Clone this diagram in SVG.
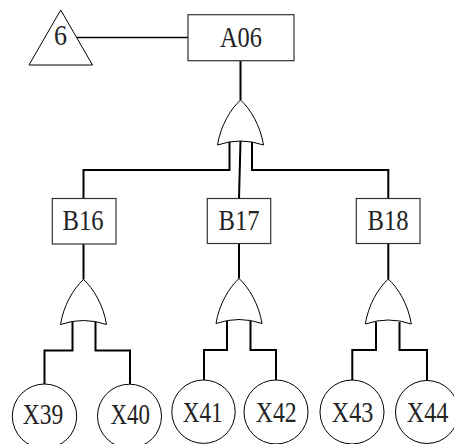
<svg xmlns="http://www.w3.org/2000/svg" xmlns:xlink="http://www.w3.org/1999/xlink" width="454" height="444" viewBox="0 0 454 444">
  <style>
    .shape { fill: #fff; stroke: #000; stroke-width: 1; }
    .box { fill: #fff; stroke: #333; stroke-width: 1.2; }
    .wire { fill: none; stroke: #000; stroke-width: 2; }
    .thin { fill: none; stroke: #000; stroke-width: 1.3; }
    .label { font-family: "Liberation Serif", "Noto Sans CJK SC", serif; font-size: 28.5px; fill: #222; text-anchor: middle; }
  </style>
  <defs>
    <!-- OR gate: tip at origin, base 46 wide, concave bottom -->
    <path id="orGate" class="shape" d="M0,0 C-10,9 -20,26 -23,45 Q0,37 23,45 C20,26 10,9 0,0 Z"/>
  </defs>

  <!-- connectors -->
  <g id="connectors">
    <line class="thin" x1="77" y1="37.5" x2="188" y2="37.5"/>
    <line class="wire" x1="240.5" y1="61" x2="240.5" y2="100"/>
    <!-- top gate inputs -->
    <polyline class="wire" points="229.5,142 229.5,170 83.5,170 83.5,198.5"/>
    <line class="wire" x1="240.5" y1="141" x2="239" y2="198.5"/>
    <polyline class="wire" points="252,142 252,170 388.3,170 388.3,198.5"/>
    <!-- B16 branch -->
    <line class="wire" x1="83.5" y1="244" x2="83.5" y2="279.5"/>
    <polyline class="wire" points="72.5,322 72.5,350.5 44.5,350.5 44.5,384"/>
    <polyline class="wire" points="95.5,322 95.5,350.5 130,350.5 130,384"/>
    <!-- B17 branch -->
    <line class="wire" x1="239" y1="243.5" x2="239" y2="278.5"/>
    <polyline class="wire" points="227,321 227,350 204,350 204,380"/>
    <polyline class="wire" points="250.5,321 250.5,350 276,350 276,380"/>
    <!-- B18 branch -->
    <line class="wire" x1="388.3" y1="243.5" x2="388.3" y2="279"/>
    <polyline class="wire" points="376,322 376,350 352.3,350 352.3,380"/>
    <polyline class="wire" points="399.5,322 399.5,350 427,350 427,380"/>
  </g>

  <g id="transfer6">
    <polygon class="shape" points="60.7,10 29,65 92.5,65"/>
    <text class="label" x="60.5" y="45" textLength="13" lengthAdjust="spacingAndGlyphs">6</text>
  </g>

  <g id="A06">
    <rect class="box" x="188" y="14.7" width="106" height="46"/>
    <text class="label" x="241" y="46.5" textLength="42" lengthAdjust="spacingAndGlyphs">A06</text>
  </g>
  <g id="gateA06"><use xlink:href="#orGate" transform="translate(240.5,100)"/></g>

  <g id="B16">
    <rect class="box" x="52.3" y="198.5" width="63.7" height="45.5"/>
    <text class="label" x="83" y="230" textLength="41" lengthAdjust="spacingAndGlyphs">B16</text>
  </g>
  <g id="gateB16"><use xlink:href="#orGate" transform="translate(83.5,279.5)"/></g>

  <g id="B17">
    <rect class="box" x="207.3" y="198.5" width="63.4" height="45"/>
    <text class="label" x="239" y="229.5" textLength="41" lengthAdjust="spacingAndGlyphs">B17</text>
  </g>
  <g id="gateB17"><use xlink:href="#orGate" transform="translate(239,278.5)"/></g>

  <g id="B18">
    <rect class="box" x="356.3" y="198.5" width="63.7" height="45"/>
    <text class="label" x="388" y="229.5" textLength="41" lengthAdjust="spacingAndGlyphs">B18</text>
  </g>
  <g id="gateB18"><use xlink:href="#orGate" transform="translate(388.3,279)"/></g>

  <g id="X39">
    <circle class="shape" cx="44.5" cy="416.2" r="32.2"/>
    <text class="label" x="43" y="424.3" textLength="40.5" lengthAdjust="spacingAndGlyphs">X39</text>
  </g>
  <g id="X40">
    <circle class="shape" cx="129.5" cy="416.2" r="32"/>
    <text class="label" x="130.3" y="424.3" textLength="39.5" lengthAdjust="spacingAndGlyphs">X40</text>
  </g>
  <g id="X41">
    <circle class="shape" cx="203.5" cy="411.7" r="31.7"/>
    <text class="label" x="202.7" y="422.3" textLength="40" lengthAdjust="spacingAndGlyphs">X41</text>
  </g>
  <g id="X42">
    <circle class="shape" cx="276" cy="412" r="32"/>
    <text class="label" x="276.2" y="422.3" textLength="41" lengthAdjust="spacingAndGlyphs">X42</text>
  </g>
  <g id="X43">
    <circle class="shape" cx="352" cy="412" r="32"/>
    <text class="label" x="352.5" y="421.7" textLength="41.5" lengthAdjust="spacingAndGlyphs">X43</text>
  </g>
  <g id="X44">
    <circle class="shape" cx="427" cy="412" r="31.5"/>
    <text class="label" x="427.5" y="421.7" textLength="41.5" lengthAdjust="spacingAndGlyphs">X44</text>
  </g>
</svg>
